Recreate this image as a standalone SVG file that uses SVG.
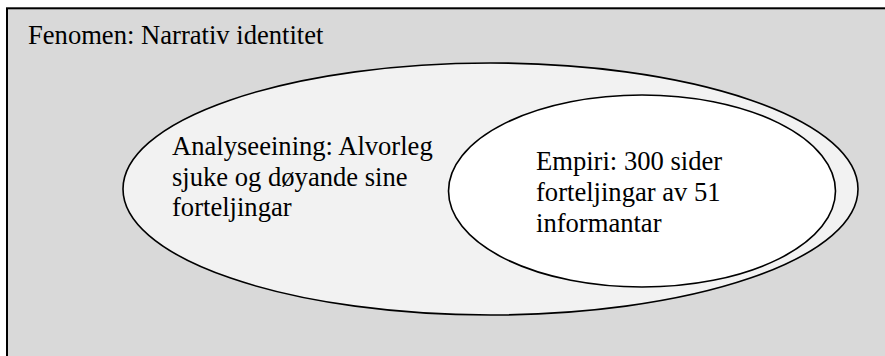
<svg xmlns="http://www.w3.org/2000/svg" width="885" height="356" viewBox="0 0 885 356">
  <style>
    text { font-family: 'Liberation Serif', 'Times New Roman', Times, serif; font-size: 26.6px; fill: #000; }
    .shape { stroke: #000; stroke-width: 1.6; }
  </style>
  <rect x="0" y="0" width="885" height="356" fill="#ffffff"/>
  <g id="fenomen">
    <rect x="7" y="8.3" width="900" height="370" fill="#d9d9d9" stroke="#000" stroke-width="2"/>
    <text x="28" y="44" font-family="Liberation Serif, serif">Fenomen: Narrativ identitet</text>
  </g>
  <g id="analyseeining">
    <ellipse class="shape" cx="490.5" cy="189" rx="367.5" ry="126" fill="#f2f2f2"/>
    <text x="172" y="154.5" font-family="Liberation Serif, serif">Analyseeining: Alvorleg</text>
    <text x="172" y="185.5" font-family="Liberation Serif, serif">sjuke og døyande sine</text>
    <text x="172" y="216" font-family="Liberation Serif, serif">forteljingar</text>
  </g>
  <g id="empiri">
    <ellipse class="shape" cx="642" cy="191" rx="193.5" ry="96" fill="#ffffff"/>
    <text x="536" y="170" font-family="Liberation Serif, serif">Empiri: 300 sider</text>
    <text x="536" y="201" font-family="Liberation Serif, serif">forteljingar av 51</text>
    <text x="536" y="232" font-family="Liberation Serif, serif">informantar</text>
  </g>
  <g id="connectors"/>
</svg>
